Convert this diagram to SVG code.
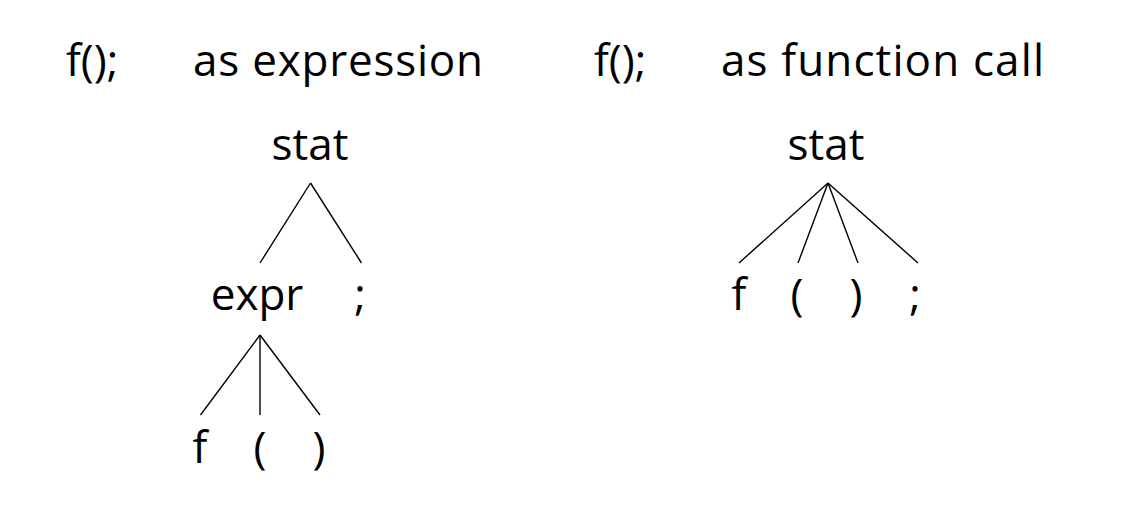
<svg xmlns="http://www.w3.org/2000/svg" width="1122" height="516" viewBox="0 0 1122 516">
<style>
text{font-family:"Open Sans","Noto Sans",sans-serif;font-size:44px;fill:#000}
.m{text-anchor:middle}
.e line{stroke:#000;stroke-width:1.4}
</style>
<rect width="1122" height="516" fill="#fff"/>
<g id="title-left"><text x="66" y="76">f();</text><text x="193" y="76" textLength="290">as expression</text></g>
<g id="title-right"><text x="594" y="76">f();</text><text x="721" y="76" textLength="323">as function call</text></g>
<g id="stat1"><text class="m" x="310" y="160">stat</text></g>
<g id="expr1"><text class="m" x="257" y="310">expr</text></g>
<g id="semi1"><text class="m" x="360" y="310">;</text></g>
<g id="f1"><text class="m" x="200" y="463">f</text></g>
<g id="lp1"><text class="m" x="260" y="463">(</text></g>
<g id="rp1"><text class="m" x="319" y="463">)</text></g>
<g id="stat2"><text class="m" x="826" y="160">stat</text></g>
<g id="f2"><text class="m" x="739" y="310">f</text></g>
<g id="lp2"><text class="m" x="797" y="310">(</text></g>
<g id="rp2"><text class="m" x="856" y="310">)</text></g>
<g id="semi2"><text class="m" x="915" y="310">;</text></g>
<g id="edges" class="e">
<line x1="310.5" y1="183" x2="260" y2="263"/>
<line x1="310.5" y1="183" x2="361.5" y2="263"/>
<line x1="260" y1="335" x2="200.5" y2="415"/>
<line x1="260" y1="335" x2="260" y2="415"/>
<line x1="260" y1="335" x2="320" y2="415"/>
<line x1="828" y1="183" x2="739" y2="263"/>
<line x1="828" y1="183" x2="798" y2="263"/>
<line x1="828" y1="183" x2="858" y2="263"/>
<line x1="828" y1="183" x2="918" y2="263"/>
</g>
</svg>
